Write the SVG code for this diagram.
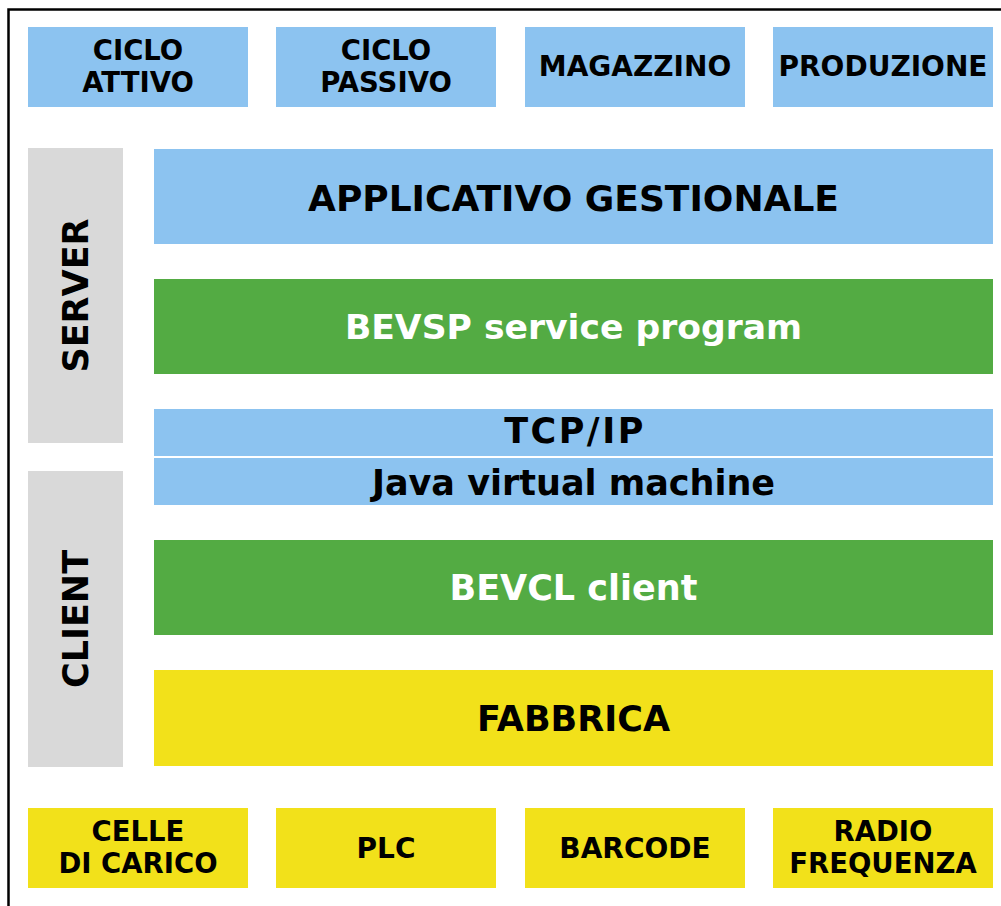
<svg xmlns="http://www.w3.org/2000/svg" width="1001" height="906" viewBox="0 0 1001 906">
<style>
.t{font-family:"DejaVu Sans","Liberation Sans",sans-serif;font-weight:bold;text-anchor:middle;fill:#000}
.s{font-size:28px}
.s2{font-size:27.5px}
.b{font-size:35px}
.w{fill:#fff}
.blue{fill:#8CC3F0}
.green{fill:#53AB43}
.yellow{fill:#F2E11A}
.gray{fill:#D9D9D9}
</style>
<rect x="0" y="0" width="1001" height="906" fill="#fff"/>
<rect id="frame" x="8.5" y="9.5" width="1100" height="1000" fill="#fff" stroke="#000" stroke-width="2.5"/>
<g id="ciclo-attivo"><rect class="blue" x="28" y="27" width="220" height="80"/><text class="t s2"><tspan x="138" y="60">CICLO</tspan><tspan x="138" y="92.3">ATTIVO</tspan></text></g>
<g id="ciclo-passivo"><rect class="blue" x="276" y="27" width="220" height="80"/><text class="t s2"><tspan x="386" y="60">CICLO</tspan><tspan x="386" y="92.3">PASSIVO</tspan></text></g>
<g id="magazzino"><rect class="blue" x="525" y="27" width="220" height="80"/><text class="t s" x="635" y="76">MAGAZZINO</text></g>
<g id="produzione"><rect class="blue" x="773" y="27" width="220" height="80"/><text class="t s" x="883" y="76">PRODUZIONE</text></g>
<g id="server"><rect class="gray" x="28" y="148" width="95" height="295"/><text class="t b" transform="translate(88,295.5) rotate(-90)" x="0" y="0">SERVER</text></g>
<g id="client"><rect class="gray" x="28" y="471" width="95" height="296"/><text class="t b" transform="translate(88,619) rotate(-90)" x="0" y="0">CLIENT</text></g>
<g id="applicativo"><rect class="blue" x="154" y="149" width="839" height="95"/><text class="t b" x="573.5" y="211" style="font-size:36px">APPLICATIVO GESTIONALE</text></g>
<g id="bevsp"><rect class="green" x="154" y="279" width="839" height="95"/><text class="t b w" x="573.5" y="339" style="font-size:34.6px">BEVSP service program</text></g>
<g id="tcpip"><rect class="blue" x="154" y="409" width="839" height="47"/><text class="t b" x="575" y="443" letter-spacing="2.5">TCP/IP</text></g>
<g id="jvm"><rect class="blue" x="154" y="458" width="839" height="47"/><text class="t b" x="573.5" y="495">Java virtual machine</text></g>
<g id="bevcl"><rect class="green" x="154" y="540" width="839" height="95"/><text class="t b w" x="573.5" y="600">BEVCL client</text></g>
<g id="fabbrica"><rect class="yellow" x="154" y="670" width="839" height="96"/><text class="t b" x="573.5" y="731">FABBRICA</text></g>
<g id="celle"><rect class="yellow" x="28" y="808" width="220" height="80"/><text class="t s2"><tspan x="138" y="841">CELLE</tspan><tspan x="138" y="873.3">DI CARICO</tspan></text></g>
<g id="plc"><rect class="yellow" x="276" y="808" width="220" height="80"/><text class="t s" x="386" y="858">PLC</text></g>
<g id="barcode"><rect class="yellow" x="525" y="808" width="220" height="80"/><text class="t s" x="635" y="858">BARCODE</text></g>
<g id="radio"><rect class="yellow" x="773" y="808" width="220" height="80"/><text class="t s2"><tspan x="883" y="840.5">RADIO</tspan><tspan x="883" y="872.8">FREQUENZA</tspan></text></g>
<g id="connectors"></g>
</svg>
